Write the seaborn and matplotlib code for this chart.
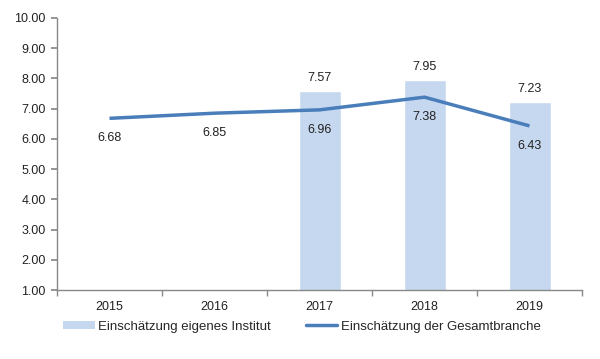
import numpy as np
import pandas as pd
import matplotlib
matplotlib.use("Agg")
import matplotlib.pyplot as plt
import seaborn as sns
from matplotlib.ticker import FixedLocator
from matplotlib.patches import Patch
from matplotlib.lines import Line2D

years = ["2015", "2016", "2017", "2018", "2019"]
eigenes_institut = [np.nan, np.nan, 7.57, 7.95, 7.23]
gesamtbranche = [6.68, 6.85, 6.96, 7.38, 6.43]

bar_label = "Einschätzung eigenes Institut"
line_label = "Einschätzung der Gesamtbranche"
bar_color = "#c6d8f0"
line_color = "#4a7ebb"

sns.set_theme(style="white")
plt.rcParams["font.family"] = ["Liberation Sans", "DejaVu Sans"]

df = pd.DataFrame({"Jahr": years, "Institut": eigenes_institut, "Branche": gesamtbranche})

fig = plt.figure(figsize=(6.0, 3.59), dpi=100)
ax = fig.add_axes([0.095, 0.192, 0.875, 0.758])

sns.barplot(data=df, x="Jahr", y="Institut", color=bar_color, width=0.4,
            saturation=1, ax=ax)
ax.plot(range(len(years)), gesamtbranche, color=line_color, lw=2.5,
        solid_capstyle="butt")

for i, v in enumerate(eigenes_institut):
    if not np.isnan(v):
        ax.annotate(f"{v:.2f}", (i, v), xytext=(0, 5), textcoords="offset points",
                    ha="center", va="bottom", fontsize=9, color="#222222")
for i, v in enumerate(gesamtbranche):
    ax.annotate(f"{v:.2f}", (i, v), xytext=(0, -10), textcoords="offset points",
                ha="center", va="top", fontsize=9, color="#222222")

ax.set_ylim(1, 10)
ax.set_xlim(-0.5, len(years) - 0.5)
ax.set_yticks(np.arange(1, 10.01, 1))
ax.set_yticklabels([f"{t:.2f}" for t in np.arange(1, 10.01, 1)], fontsize=9, color="#222222")
ax.set_xticks(range(len(years)))
ax.set_xticklabels(years, fontsize=9, color="#222222")
ax.xaxis.set_minor_locator(FixedLocator(np.arange(-0.5, len(years), 1)))
ax.tick_params(axis="x", which="major", length=0, pad=8)
ax.tick_params(axis="x", which="minor", length=4, color="#888888", direction="out", bottom=True)
ax.tick_params(axis="y", length=4, color="#888888", direction="out", left=True, pad=4)
ax.set_xlabel("")
ax.set_ylabel("")

sns.despine(ax=ax)
for s in ["left", "bottom"]:
    ax.spines[s].set_color("#888888")
    ax.spines[s].set_linewidth(1)

handles = [Patch(facecolor=bar_color, edgecolor="none"),
           Line2D([0], [0], color=line_color, lw=2.5)]
fig.legend(handles, [bar_label, line_label], loc="lower left", bbox_to_anchor=(0.085, 0.04),
           ncol=2, frameon=False, fontsize=9.5, handlelength=2.4,
           handleheight=0.6, columnspacing=2.6, handletextpad=0.3)

fig.savefig("out.png", dpi=100)
